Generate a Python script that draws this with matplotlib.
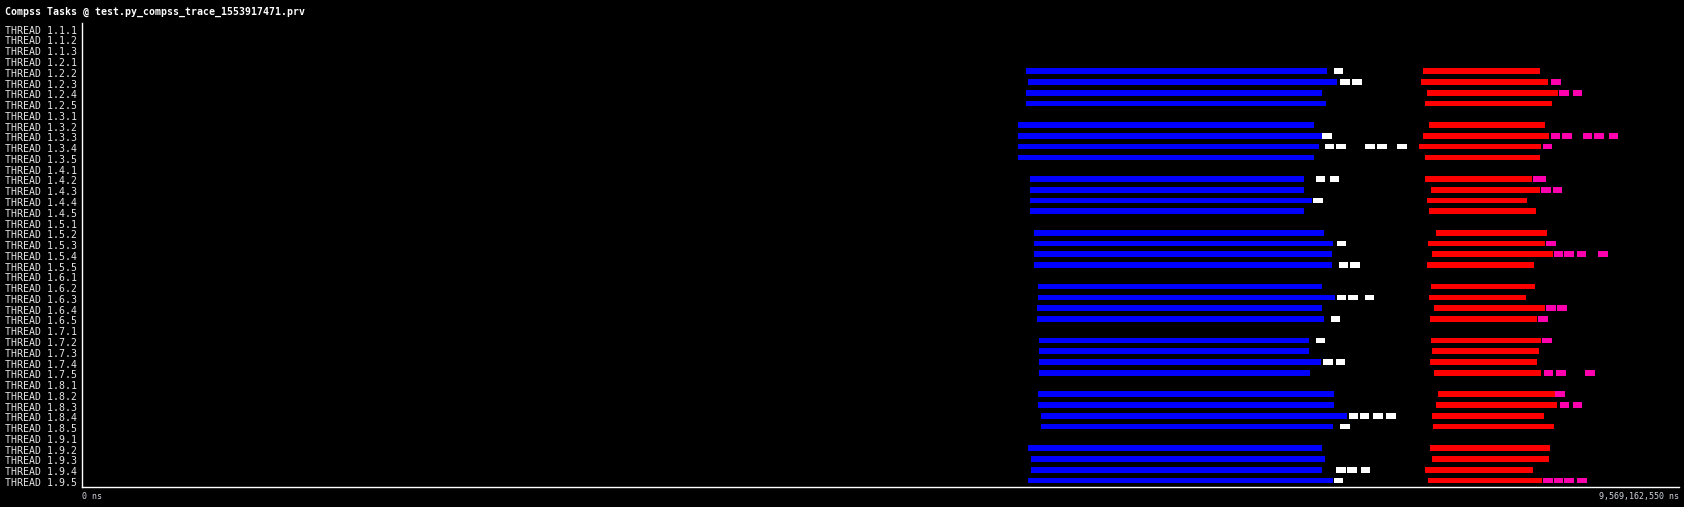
import matplotlib
matplotlib.use("Agg")
import matplotlib.pyplot as plt
import matplotlib.transforms as mtransforms

# trace span (ns) and thread rows
total_ns = 9569162550
threads = ["1.1.1", "1.1.2", "1.1.3",
           "1.2.1", "1.2.2", "1.2.3", "1.2.4", "1.2.5",
           "1.3.1", "1.3.2", "1.3.3", "1.3.4", "1.3.5",
           "1.4.1", "1.4.2", "1.4.3", "1.4.4", "1.4.5",
           "1.5.1", "1.5.2", "1.5.3", "1.5.4", "1.5.5",
           "1.6.1", "1.6.2", "1.6.3", "1.6.4", "1.6.5",
           "1.7.1", "1.7.2", "1.7.3", "1.7.4", "1.7.5",
           "1.8.1", "1.8.2", "1.8.3", "1.8.4", "1.8.5",
           "1.9.1", "1.9.2", "1.9.3", "1.9.4", "1.9.5"]

# task bursts: (thread, start s, end s)
task_blue = [
    ("1.2.2", 5.656, 7.460), ("1.2.3", 5.668, 7.522), ("1.2.4", 5.656, 7.430), ("1.2.5", 5.656, 7.454),
    ("1.3.2", 5.609, 7.382), ("1.3.3", 5.609, 7.430), ("1.3.4", 5.609, 7.412), ("1.3.5", 5.609, 7.382),
    ("1.4.2", 5.680, 7.322), ("1.4.3", 5.680, 7.322), ("1.4.4", 5.680, 7.370), ("1.4.5", 5.680, 7.322),
    ("1.5.2", 5.704, 7.442), ("1.5.3", 5.704, 7.496), ("1.5.4", 5.704, 7.490), ("1.5.5", 5.704, 7.490),
    ("1.6.2", 5.728, 7.430), ("1.6.3", 5.728, 7.508), ("1.6.4", 5.722, 7.430), ("1.6.5", 5.722, 7.442),
    ("1.7.2", 5.734, 7.352), ("1.7.3", 5.734, 7.352), ("1.7.4", 5.734, 7.424), ("1.7.5", 5.734, 7.358),
    ("1.8.2", 5.728, 7.502), ("1.8.3", 5.728, 7.502), ("1.8.4", 5.746, 7.580), ("1.8.5", 5.746, 7.496),
    ("1.9.2", 5.668, 7.430), ("1.9.3", 5.686, 7.448), ("1.9.4", 5.686, 7.430), ("1.9.5", 5.668, 7.496),
]

task_white = [
    ("1.2.2", 7.502, 7.556),
    ("1.2.3", 7.538, 7.598), ("1.2.3", 7.610, 7.670),
    ("1.3.3", 7.430, 7.490),
    ("1.3.4", 7.448, 7.502), ("1.3.4", 7.514, 7.574), ("1.3.4", 7.688, 7.747),
    ("1.3.4", 7.759, 7.819), ("1.3.4", 7.879, 7.939),
    ("1.4.2", 7.394, 7.448), ("1.4.2", 7.478, 7.532),
    ("1.4.4", 7.376, 7.436),
    ("1.5.3", 7.520, 7.574),
    ("1.5.5", 7.532, 7.586), ("1.5.5", 7.598, 7.658),
    ("1.6.3", 7.520, 7.574), ("1.6.3", 7.586, 7.646), ("1.6.3", 7.688, 7.741),
    ("1.6.5", 7.484, 7.538),
    ("1.7.2", 7.394, 7.448),
    ("1.7.4", 7.436, 7.496), ("1.7.4", 7.514, 7.568),
    ("1.8.4", 7.592, 7.646), ("1.8.4", 7.658, 7.712), ("1.8.4", 7.735, 7.795), ("1.8.4", 7.814, 7.873),
    ("1.8.5", 7.538, 7.598),
    ("1.9.4", 7.514, 7.574), ("1.9.4", 7.580, 7.640), ("1.9.4", 7.664, 7.718),
    ("1.9.5", 7.502, 7.556),
]

task_red = [
    ("1.2.2", 8.035, 8.736), ("1.2.3", 8.023, 8.784), ("1.2.4", 8.059, 8.844), ("1.2.5", 8.047, 8.808),
    ("1.3.2", 8.071, 8.766), ("1.3.3", 8.035, 8.790), ("1.3.4", 8.011, 8.742), ("1.3.5", 8.047, 8.736),
    ("1.4.2", 8.047, 8.688), ("1.4.3", 8.083, 8.736), ("1.4.4", 8.059, 8.658), ("1.4.5", 8.071, 8.712),
    ("1.5.2", 8.113, 8.778), ("1.5.3", 8.065, 8.766), ("1.5.4", 8.089, 8.814), ("1.5.5", 8.059, 8.700),
    ("1.6.2", 8.083, 8.706), ("1.6.3", 8.071, 8.652), ("1.6.4", 8.101, 8.766), ("1.6.5", 8.077, 8.718),
    ("1.7.2", 8.083, 8.742), ("1.7.3", 8.089, 8.730), ("1.7.4", 8.077, 8.718), ("1.7.5", 8.101, 8.742),
    ("1.8.2", 8.125, 8.826), ("1.8.3", 8.113, 8.838), ("1.8.4", 8.089, 8.760), ("1.8.5", 8.095, 8.820),
    ("1.9.2", 8.077, 8.796), ("1.9.3", 8.089, 8.790), ("1.9.4", 8.047, 8.694), ("1.9.5", 8.065, 8.748),
]

task_magenta = [
    ("1.2.3", 8.802, 8.862),
    ("1.2.4", 8.850, 8.910), ("1.2.4", 8.934, 8.988),
    ("1.3.3", 8.802, 8.856), ("1.3.3", 8.868, 8.928), ("1.3.3", 8.994, 9.048),
    ("1.3.3", 9.060, 9.120), ("1.3.3", 9.150, 9.204),
    ("1.3.4", 8.754, 8.808),
    ("1.4.2", 8.694, 8.772),
    ("1.4.3", 8.742, 8.802), ("1.4.3", 8.814, 8.868),
    ("1.5.3", 8.772, 8.832),
    ("1.5.4", 8.820, 8.874), ("1.5.4", 8.880, 8.940), ("1.5.4", 8.958, 9.012), ("1.5.4", 9.084, 9.144),
    ("1.6.4", 8.772, 8.832), ("1.6.4", 8.838, 8.898),
    ("1.6.5", 8.724, 8.784),
    ("1.7.2", 8.748, 8.808),
    ("1.7.5", 8.760, 8.814), ("1.7.5", 8.832, 8.892), ("1.7.5", 9.006, 9.066),
    ("1.8.2", 8.826, 8.886),
    ("1.8.3", 8.856, 8.910), ("1.8.3", 8.934, 8.988),
    ("1.9.5", 8.754, 8.814), ("1.9.5", 8.820, 8.874), ("1.9.5", 8.880, 8.940), ("1.9.5", 8.958, 9.018),
]

W, H = 1684, 507
fig = plt.figure(figsize=(W / 100, H / 100), dpi=100, facecolor="black")

# axes box in pixels: x 82..1679, y 23..487 (from top)
row_px = 10.77
top_px = 23
rows_top = 25.3
bot_px = 487
ax = fig.add_axes([82 / W, 1 - bot_px / H, (1679 - 82) / W, (bot_px - top_px) / H])
ax.set_facecolor("black")
ax.set_xlim(0, total_ns / 1e9)
ax.set_ylim((bot_px - rows_top) / row_px, (top_px - rows_top) / row_px)

row_of = {t: i for i, t in enumerate(threads)}
bar_h = 0.53
for tasks, col in [(task_blue, "#0000ff"), (task_white, "#ffffff"),
                   (task_red, "#ff0000"), (task_magenta, "#ff00ae")]:
    ys = [row_of[t] for t, s, e in tasks]
    lefts = [s for t, s, e in tasks]
    widths = [e - s for t, s, e in tasks]
    ax.barh(ys, widths, left=lefts, height=bar_h, align="edge",
            color=col, linewidth=0, antialiased=False)

for side in ["top", "right"]:
    ax.spines[side].set_visible(False)
for side in ["left", "bottom"]:
    ax.spines[side].set_color("white")
    ax.spines[side].set_linewidth(1.0)
ax.set_xticks([])
ax.set_yticks([])

mono = "DejaVu Sans Mono"
trans = mtransforms.blended_transform_factory(fig.transFigure, ax.transData)
for i, t in enumerate(threads):
    ax.text(5 / W, i + 0.5, "THREAD " + t, transform=trans, ha="left", va="center",
            family=mono, fontsize=7.1, color="#e6e6e6", clip_on=False)

fig.text(5 / W, 1 - 11.7 / H, "Compss Tasks @ test.py_compss_trace_1553917471.prv",
         ha="left", va="center", family=mono, fontweight="bold", fontsize=7.1, color="white")
fig.text(82 / W, 1 - 496.5 / H, "0 ns", ha="left", va="center",
         family=mono, fontsize=6.0, color="#cfd3dc")
fig.text(1679 / W, 1 - 496.5 / H, f"{total_ns:,} ns", ha="right", va="center",
         family=mono, fontsize=6.0, color="#cfd3dc")

fig.savefig("out.png", dpi=100, facecolor="black")
